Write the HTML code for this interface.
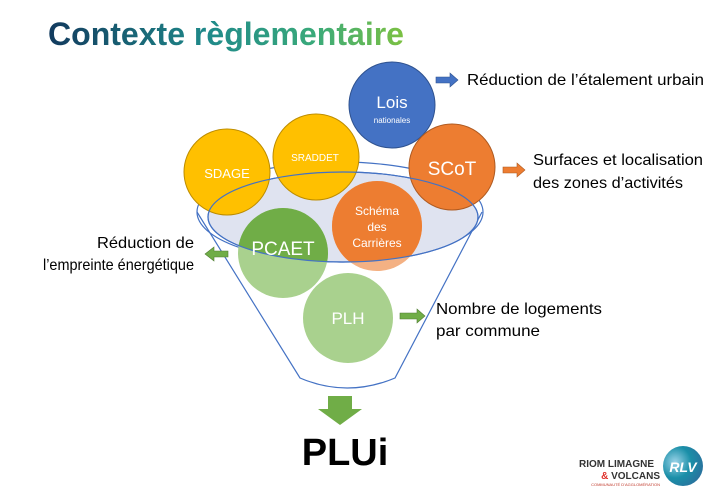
<!DOCTYPE html>
<html><head><meta charset="utf-8"><style>
html,body{margin:0;padding:0;background:#fff;}
svg{display:block;font-family:"Liberation Sans",sans-serif;}
</style></head><body>
<svg width="721" height="493" viewBox="0 0 721 493" xmlns="http://www.w3.org/2000/svg">
<defs>
<linearGradient id="tg" x1="0" x2="1" y1="0" y2="0">
<stop offset="0" stop-color="#123a5e"/><stop offset="0.45" stop-color="#1f8a8a"/><stop offset="0.75" stop-color="#3aaa7a"/><stop offset="1" stop-color="#7cc142"/>
</linearGradient>
<clipPath id="ell"><ellipse cx="343" cy="217" rx="135" ry="45"/></clipPath>
<radialGradient id="lg" cx="0.3" cy="0.4" r="0.8"><stop offset="0" stop-color="#9ad3e8"/><stop offset="0.5" stop-color="#1a8fa8"/><stop offset="1" stop-color="#2d6b9b"/></radialGradient>
</defs>
<text x="48" y="45" font-size="32" font-weight="bold" fill="url(#tg)" textLength="356" lengthAdjust="spacingAndGlyphs">Contexte règlementaire</text>

<!-- funnel -->
<path d="M197 212 L300 378 Q347 398 395 378 L482 212" fill="none" stroke="#4472c4" stroke-width="1.2"/>
<ellipse cx="340" cy="212" rx="143" ry="50" fill="none" stroke="#4472c4" stroke-width="1.2"/>
<ellipse cx="343" cy="217" rx="135" ry="45" fill="#dfe3f0" stroke="#4472c4" stroke-width="1.2"/>

<!-- circles -->
<circle cx="392" cy="105" r="43" fill="#4472c4" stroke="#2f528f" stroke-width="1"/>
<circle cx="227" cy="172" r="43" fill="#ffc000" stroke="#bc8c00" stroke-width="1"/>
<circle cx="316" cy="157" r="43" fill="#ffc000" stroke="#bc8c00" stroke-width="1"/>
<circle cx="452" cy="167" r="43" fill="#ed7d31" stroke="#ae5a21" stroke-width="1"/>
<circle cx="377" cy="226" r="45" fill="#f4b183"/>
<circle cx="377" cy="226" r="45" fill="#ed7d31" clip-path="url(#ell)"/>
<circle cx="283" cy="253" r="45" fill="#a9d18e"/>
<circle cx="283" cy="253" r="45" fill="#70ad47" clip-path="url(#ell)"/>
<ellipse cx="343" cy="217" rx="135" ry="45" fill="none" stroke="#4472c4" stroke-width="1.2"/>
<circle cx="348" cy="318" r="45" fill="#a9d18e"/>

<g fill="#fff" text-anchor="middle">
<text x="392" y="108" font-size="17">Lois</text>
<text x="392" y="123" font-size="8">nationales</text>
<text x="227" y="178" font-size="13">SDAGE</text>
<text x="315" y="161" font-size="10">SRADDET</text>
<text x="452" y="175" font-size="19">SCoT</text>
<text x="377" y="215" font-size="12">Schéma</text>
<text x="377" y="231" font-size="12">des</text>
<text x="377" y="247" font-size="12">Carrières</text>
<text x="283" y="255" font-size="19">PCAET</text>
<text x="348" y="324" font-size="17">PLH</text>
</g>

<!-- arrows -->
<path d="M436 77 h14 v-4 l8 7 l-8 7 v-4 h-14z" fill="#4472c4" stroke="#2f528f" stroke-width="0.6"/>
<path d="M503 167 h14 v-4 l8 7 l-8 7 v-4 h-14z" fill="#ed7d31" stroke="#ae5a21" stroke-width="0.6"/>
<path d="M228 251 h-14 v-4 l-9 7 l9 7 v-4 h14z" fill="#70ad47" stroke="#507e32" stroke-width="0.6"/>
<path d="M400 313 h17 v-4 l8 7 l-8 7 v-4 h-17z" fill="#70ad47" stroke="#507e32" stroke-width="0.6"/>
<path d="M328 396 h24 v13 h10 l-22 16 l-22 -16 h10z" fill="#70ad47"/>

<g fill="#000" font-size="16">
<text x="467" y="85" textLength="237" lengthAdjust="spacingAndGlyphs">Réduction de l’étalement urbain</text>
<text x="533" y="165" textLength="170" lengthAdjust="spacingAndGlyphs">Surfaces et localisation</text>
<text x="533" y="188" textLength="150" lengthAdjust="spacingAndGlyphs">des zones d’activités</text>
<text x="97" y="248" textLength="97" lengthAdjust="spacingAndGlyphs">Réduction de</text>
<text x="43" y="270" textLength="151" lengthAdjust="spacingAndGlyphs">l’empreinte énergétique</text>
<text x="436" y="314" textLength="166" lengthAdjust="spacingAndGlyphs">Nombre de logements</text>
<text x="436" y="336" textLength="104" lengthAdjust="spacingAndGlyphs">par commune</text>
</g>
<text x="345" y="465" font-size="38" font-weight="bold" text-anchor="middle">PLUi</text>

<!-- logo -->
<text x="654" y="467" font-size="10" font-weight="bold" fill="#333" text-anchor="end">RIOM LIMAGNE</text>
<text x="660" y="479" font-size="10" font-weight="bold" fill="#333" text-anchor="end"><tspan fill="#e0302a">&amp;</tspan> VOLCANS</text>
<text x="660" y="486" font-size="4" fill="#c0392b" text-anchor="end">COMMUNAUTÉ D'AGGLOMÉRATION</text>
<circle cx="683" cy="466" r="20" fill="url(#lg)"/>
<text x="683" y="472" font-size="14" font-weight="bold" fill="#fff" text-anchor="middle" font-style="italic">RLV</text>
</svg>
</body></html>
